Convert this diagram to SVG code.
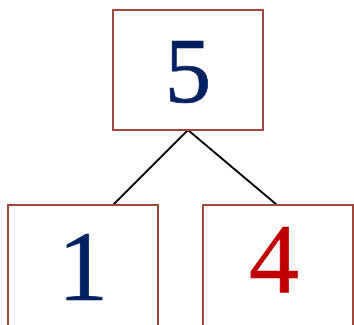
<svg xmlns="http://www.w3.org/2000/svg" width="354" height="325" viewBox="0 0 354 325">
<style>
.box{fill:#fff;stroke:#a0483a;stroke-width:2}
.edge{stroke:#000;stroke-width:2;fill:none}
.lbl{font-family:"Liberation Serif","Times New Roman",serif;text-anchor:middle;stroke-width:0.7}
.navy{fill:#002060;stroke:#002060}
.red{fill:#c00000;stroke:#c00000}
</style>
<rect width="354" height="325" fill="#fff"/>
<g id="connectors">
<line class="edge" x1="188" y1="130" x2="113" y2="205"/>
<line class="edge" x1="188" y1="130" x2="277" y2="205"/>
</g>
<g id="node5">
<rect class="box" x="113" y="10" width="150" height="120"/>
<text class="lbl navy" x="188" y="102" font-size="93">5</text>
</g>
<g id="node1">
<rect class="box" x="8" y="205" width="150" height="121"/>
<text class="lbl navy" x="83" y="300" font-size="100">1</text>
</g>
<g id="node4">
<rect class="box" x="203" y="205" width="150" height="121"/>
<text class="lbl red" x="274" y="292" font-size="100">4</text>
</g>
</svg>
